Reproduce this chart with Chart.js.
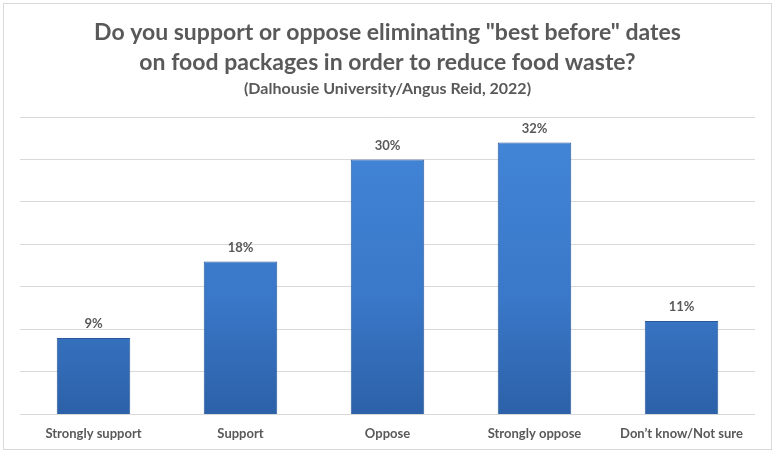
<!DOCTYPE html>
<html>
<head>
<meta charset="utf-8">
<script src="https://cdn.jsdelivr.net/npm/chart.js@4"></script>
<style>
  html, body { margin: 0; padding: 0; background: #fff; }
  #wrap { position: relative; width: 777px; height: 456px; }
  #frame { position: absolute; left: 3px; top: 3px; width: 767px; height: 445px; border: 1px solid #d9d9d9; pointer-events: none; }
</style>
</head>
<body>
<div id="wrap">
  <canvas id="foodChart" width="777" height="456"></canvas>
  <div id="frame"></div>
</div>
<script>
// Datos del gráfico
const categorias = ["Strongly support", "Support", "Oppose", "Strongly oppose", "Don\u2019t know/Not sure"];
const porcentajes = [9, 18, 30, 32, 11];
const tituloLineas = ['Do you support or oppose eliminating "best before" dates', "on food packages in order to reduce food waste?"];
const subtitulo = "(Dalhousie University/Angus Reid, 2022)";

const fuente = "Lato, 'Open Sans', sans-serif";
const gris = "#595959";

// Etiquetas de porcentaje encima de cada barra
const etiquetasBarras = {
    id: "etiquetasBarras",
    afterDatasetsDraw(chart) {
        const ctx = chart.ctx;
        const meta = chart.getDatasetMeta(0);
        ctx.save();
        ctx.font = "bold 13px " + fuente;
        ctx.fillStyle = gris;
        ctx.textAlign = "center";
        ctx.textBaseline = "middle";
        meta.data.forEach((bar, i) => {
            ctx.fillText(porcentajes[i] + "%", bar.x, bar.y - 14);
        });
        ctx.restore();
    }
};

function degradado(context) {
    const chart = context.chart;
    const area = chart.chartArea;
    if (!area) return "#3a78c9";
    const g = chart.ctx.createLinearGradient(0, area.top, 0, area.bottom);
    g.addColorStop(0, "#4386d8");
    g.addColorStop(0.6, "#3a78c9");
    g.addColorStop(1, "#2c61a8");
    return g;
}

const ctx = document.getElementById("foodChart").getContext("2d");
const foodChart = new Chart(ctx, {
    type: "bar",
    data: {
        labels: categorias,
        datasets: [{
            data: porcentajes,
            backgroundColor: degradado,
            borderColor: "#2a5a9c",
            borderWidth: 1,
            categoryPercentage: 1,
            barPercentage: 0.5
        }]
    },
    options: {
        responsive: false,
        animation: false,
        layout: { padding: { left: 20, right: 22, bottom: 10 } },
        plugins: {
            legend: { display: false },
            tooltip: { enabled: false },
            title: {
                display: true,
                text: tituloLineas,
                color: gris,
                font: { family: fuente, size: 23, weight: "bold", lineHeight: 1.3 },
                padding: { top: 18, bottom: 1 }
            },
            subtitle: {
                display: true,
                text: subtitulo,
                color: gris,
                font: { family: fuente, size: 16, weight: "bold", lineHeight: 1.2 },
                padding: { top: 0, bottom: 19 }
            }
        },
        scales: {
            x: {
                grid: { display: false },
                border: { display: false },
                ticks: {
                    color: gris,
                    font: { family: fuente, size: 13, weight: "bold" },
                    padding: 4
                }
            },
            y: {
                min: 0,
                max: 35,
                ticks: { stepSize: 5, display: false },
                grid: { color: "#d9d9d9", drawTicks: false },
                border: { display: false }
            }
        }
    },
    plugins: [etiquetasBarras]
});
</script>
</body>
</html>
